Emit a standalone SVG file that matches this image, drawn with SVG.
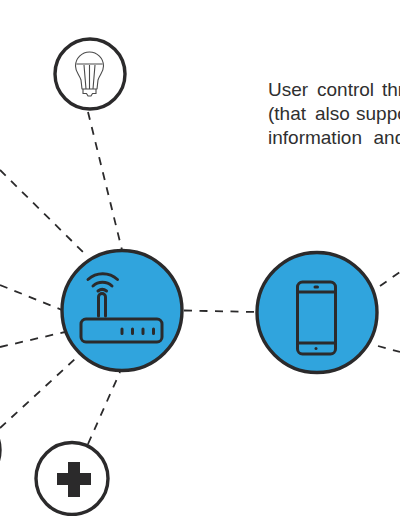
<svg xmlns="http://www.w3.org/2000/svg" width="400" height="516" viewBox="0 0 400 516">
<style>
.bg{fill:#fff}
.ring{fill:#fff;stroke:#2b2a2b;stroke-width:3.4}
.hub{fill:#30a4dd;stroke:#2b2a2b;stroke-width:3.4}
.ic{fill:none;stroke:#2b2a2b;stroke-width:3;stroke-linecap:round;stroke-linejoin:round}
.thin{fill:none;stroke:#4a4a4a;stroke-width:1.1;stroke-linejoin:round}
.dash{fill:none;stroke:#2b2a2b;stroke-width:1.8;stroke-dasharray:8 7.500}
.t{font-family:"Liberation Sans",Arial,sans-serif;font-size:19px;fill:#2f2f2f}
</style>
<rect class="bg" width="400" height="516"/>
<g id="connectors">
<path class="dash" d="M88 112L122 250"/>
<path class="dash" d="M0 170L87 256"/>
<path class="dash" d="M0 285L62 310"/>
<path class="dash" d="M0 347L65 332"/>
<path class="dash" d="M0 428L76 358"/>
<path class="dash" d="M88 444L120 372"/>
<path class="dash" d="M184 310.500L256 312"/>
<path class="dash" d="M380 286L400 272"/>
<path class="dash" d="M378 346L400 352"/>
</g>
<g id="node-bulb">
<circle class="ring" cx="90" cy="74" r="35"/>
<path class="thin" d="M81 80C79 74 75.500 72 75.500 66A14 14 0 0 1 103.500 66C103.500 72 100 74 98 80L97 89H82Z"/>
<path class="thin" d="M76.500 64H102.500M84 65L86 89M95 65L93 89M89.500 65V89M83 89V93.500H86.500L88 96H91L92.500 93.500H96V89"/>
</g>
<g id="node-router">
<circle class="hub" cx="122" cy="310.500" r="60"/>
<path class="ic" d="M88 279.500A22 22 0 0 1 117.500 279.500M93 286A14 14 0 0 1 112 286M98 291A7 7 0 0 1 106.500 291"/>
<path class="ic" d="M98.500 316V297A3.500 3.500 0 0 1 105.500 297V316"/>
<rect class="ic" x="81" y="319" width="81" height="23" rx="5"/>
<path class="ic" d="M122 329V333.500M132.500 329V333.500M143 329V333.500M153.500 329V333.500"/>
</g>
<g id="node-phone">
<circle class="hub" cx="317" cy="312.500" r="60"/>
<rect class="ic" x="297.500" y="282" width="38" height="72" rx="5"/>
<path class="ic" d="M297.500 292H335.500M297.500 343H335.500"/>
<path class="ic" d="M315 287H317.500"/>
<circle cx="316" cy="348.500" r="1.500" fill="#2b2a2b"/>
</g>
<g id="node-health">
<circle class="ring" cx="72" cy="478.500" r="36"/>
<path fill="#2b2a2b" d="M68 462H80V473H91V485H80V497H68V485H57V473H68Z"/>
</g>
<g id="node-offscreen">
<circle class="ring" cx="-36" cy="450" r="36"/>
</g>
<g id="caption">
<text class="t" y="95.500"><tspan x="268">User</tspan> <tspan x="317">control</tspan> <tspan x="382">thr</tspan></text>
<text class="t" y="119.500"><tspan x="268">(that</tspan> <tspan x="315">also</tspan> <tspan x="356">suppo</tspan></text>
<text class="t" y="143.500"><tspan x="268">information</tspan> <tspan x="373.500">and</tspan></text>
</g>
</svg>
